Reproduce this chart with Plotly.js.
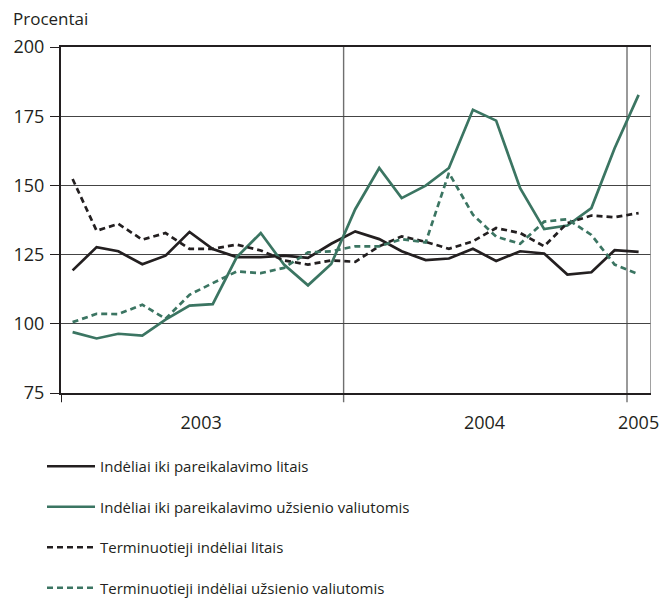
<!DOCTYPE html>
<html>
<head>
<meta charset="utf-8">
<script src="https://cdn.plot.ly/plotly-3.0.1.min.js"></script>
<style>
  html, body { margin: 0; padding: 0; background: #ffffff; }
  #chart { width: 667px; height: 598px; }
</style>
</head>
<body>
<div id="chart"></div>
<script>
// Months (one observation per month, plotted mid-month)
const months = [
  "2003-01","2003-02","2003-03","2003-04","2003-05","2003-06",
  "2003-07","2003-08","2003-09","2003-10","2003-11","2003-12",
  "2004-01","2004-02","2004-03","2004-04","2004-05","2004-06",
  "2004-07","2004-08","2004-09","2004-10","2004-11","2004-12",
  "2005-01"
];

// Indėliai iki pareikalavimo litais
const demandLitas = [119.3,127.7,126.2,121.5,124.6,133.2,127.0,124.1,124.1,124.6,123.8,128.9,
                     133.4,130.6,126.2,123.0,123.6,127.1,122.7,126.2,125.4,117.8,118.6,126.6,126.0];
// Indėliai iki pareikalavimo užsienio valiutomis
const demandForeign = [97.0,94.7,96.4,95.7,101.5,106.6,107.1,124.1,132.8,121.4,113.9,121.6,
                       141.4,156.3,145.4,149.9,156.3,177.3,173.4,149.0,134.2,135.5,141.8,163.4,182.7];
// Terminuotieji indėliai litais
const timeLitas = [152.3,133.6,136.1,130.4,132.8,127.1,127.1,128.6,126.5,122.9,121.4,122.9,
                   122.4,128.0,131.6,129.6,127.1,129.8,134.6,132.8,128.0,136.4,139.1,138.5,140.0];
// Terminuotieji indėliai užsienio valiutomis
const timeForeign = [100.6,103.6,103.5,106.9,101.8,110.5,114.7,118.9,118.3,120.2,125.8,126.2,
                     128.0,128.0,130.6,129.4,154.5,139.4,131.5,128.9,136.9,137.8,132.1,121.4,117.9];

const seriesNames = [
  "Indėliai iki pareikalavimo litais",
  "Indėliai iki pareikalavimo užsienio valiutomis",
  "Terminuotieji indėliai litais",
  "Terminuotieji indėliai užsienio valiutomis"
];

// Axis labels
const yTicks = [75, 100, 125, 150, 175, 200];
const xTickVals = ["2003-07-01", "2004-07-01", "2005-01-16"];
const xTickText = ["2003", "2004", "2005"];
const yearBounds = ["2004-01-01", "2005-01-01"];
const xRange = ["2003-01-01", "2005-02-01"];
const yTitle = "Procentai";

const xDates = months.map(m => m + "-16");

const BLACK = "#231f20";
const GREEN = "#3b7562";
const FONT = "Open Sans, Noto Sans, sans-serif";

function trace(y, name, color, dash, grp) {
  return {
    type: "scatter", mode: "lines", x: xDates, y: y, name: name,
    legendgroup: grp,
    line: { color: color, width: 2.7, dash: dash },
    hoverinfo: "skip"
  };
}

const data = [
  trace(demandLitas, seriesNames[0], BLACK, "solid", "a"),
  trace(demandForeign, seriesNames[1], GREEN, "solid", "b"),
  trace(timeLitas, seriesNames[2], BLACK, "6px,4px", "c"),
  trace(timeForeign, seriesNames[3], GREEN, "6px,4px", "d")
];

const shapes = [];
// left axis extension below the plot
shapes.push({ type: "line", xref: "x", yref: "paper", x0: xRange[0], x1: xRange[0], y0: -0.027, y1: 0,
              line: { color: BLACK, width: 2 }, layer: "above" });
// year separators
yearBounds.forEach(d => shapes.push({
  type: "line", xref: "x", yref: "paper", x0: d, x1: d, y0: -0.027, y1: 1,
  line: { color: "#6f6f6f", width: 1.4 }, layer: "below"
}));
// right border
shapes.push({ type: "line", xref: "x", yref: "paper", x0: xRange[1], x1: xRange[1], y0: 0, y1: 1,
              line: { color: "#8a8a8a", width: 1.6 }, layer: "above" });

const layout = {
  width: 667, height: 598,
  margin: { l: 61, r: 16, t: 47, b: 205, autoexpand: false },
  paper_bgcolor: "#ffffff", plot_bgcolor: "#ffffff",
  font: { family: FONT, size: 18, color: "#231f20" },
  showlegend: true,
  legend: {
    orientation: "v",
    x: 42 / 667, xanchor: "left", xref: "container",
    y: 1 - 450 / 598, yanchor: "top", yref: "container",
    font: { family: FONT, size: 15, color: "#231f20" },
    tracegroupgap: 18,
    itemwidth: 48,
    bgcolor: "rgba(0,0,0,0)"
  },
  xaxis: {
    type: "date",
    range: xRange,
    showgrid: false, zeroline: false,
    showline: true, linecolor: BLACK, linewidth: 2, mirror: true,
    ticks: "", tickmode: "array", tickvals: xTickVals, ticktext: xTickText,
    tickfont: { family: FONT, size: 18, color: "#231f20" },
    ticklabelstandoff: 12,
    fixedrange: true
  },
  yaxis: {
    range: [75, 200],
    tickmode: "array", tickvals: yTicks,
    showgrid: true, gridcolor: "#444444", gridwidth: 1,
    zeroline: false,
    showline: true, linecolor: BLACK, linewidth: 2,
    ticks: "outside", ticklen: 9, tickcolor: BLACK, tickwidth: 1,
    tickfont: { family: FONT, size: 18, color: "#231f20" },
    ticklabelstandoff: 2,
    fixedrange: true
  },
  shapes: shapes,
  annotations: [{
    text: yTitle, xref: "paper", yref: "paper",
    x: -50 / 590, y: 1 + 29 / 346, xanchor: "left", yanchor: "middle",
    showarrow: false, font: { family: FONT, size: 17, color: "#231f20" }
  }]
};

Plotly.newPlot("chart", data, layout, { displayModeBar: false, staticPlot: true });
</script>
</body>
</html>
